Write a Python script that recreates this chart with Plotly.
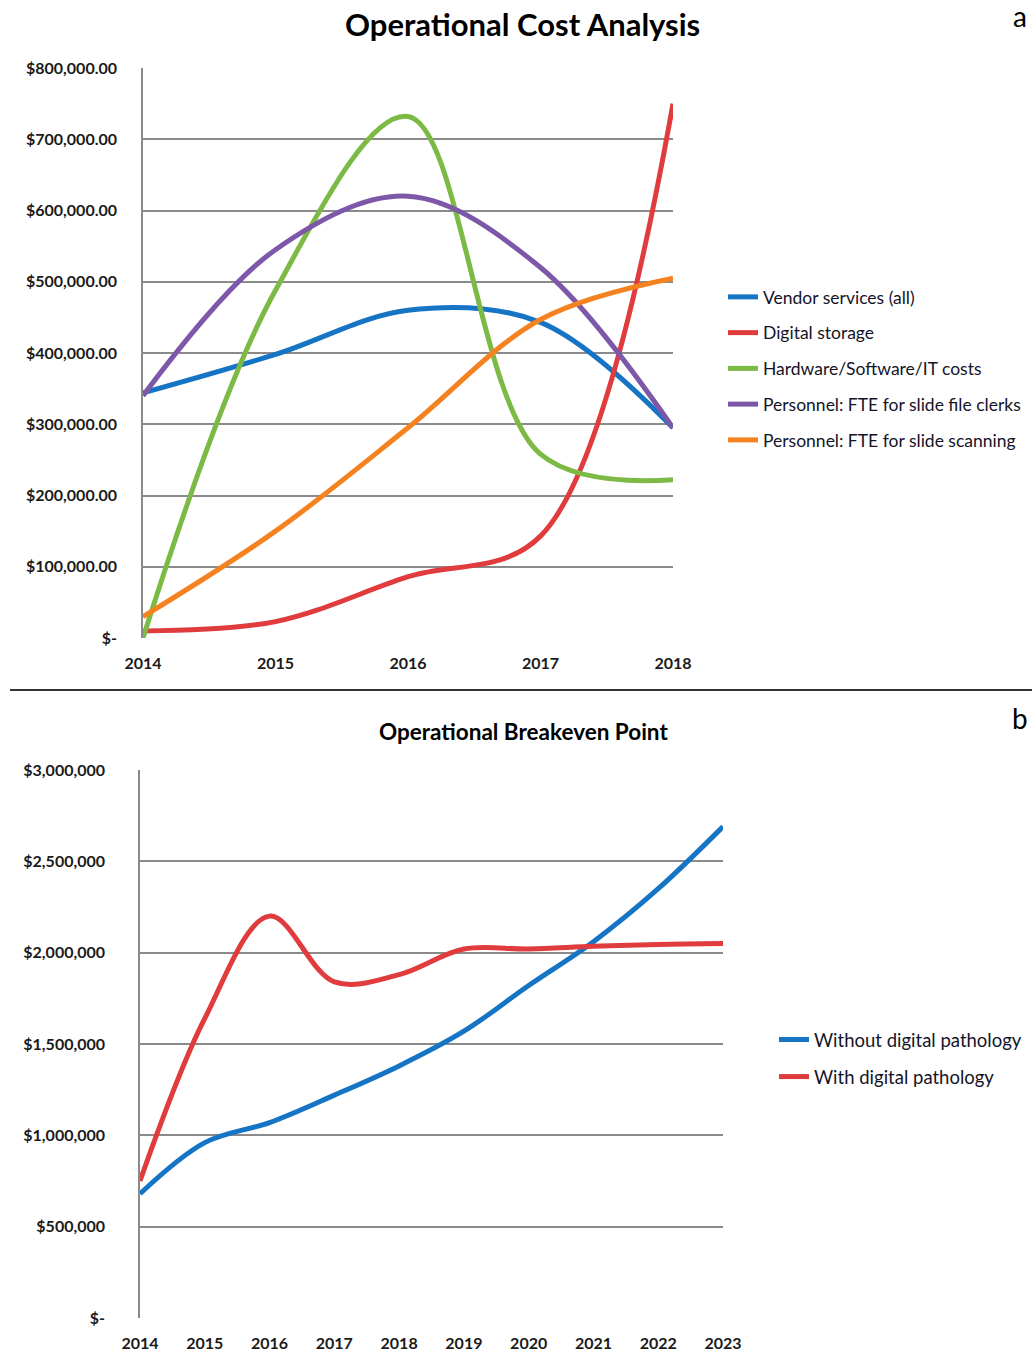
import plotly.graph_objects as go

# ---- Panel a data ----
years_a = [2014, 2015, 2016, 2017, 2018]
vendor = [344000, 398000, 460000, 443000, 295000]
storage = [10000, 23000, 86000, 143000, 750000]
hardware = [0, 488000, 732000, 258000, 222000]
clerks = [340000, 545000, 620000, 520000, 295000]
scanning = [30000, 150000, 295000, 447000, 505000]
names_a = ["Vendor services (all)", "Digital storage", "Hardware/Software/IT costs",
           "Personnel: FTE for slide file clerks", "Personnel: FTE for slide scanning"]
yticks_a = [0, 100000, 200000, 300000, 400000, 500000, 600000, 700000, 800000]
yticktext_a = ["$-", "$100,000.00", "$200,000.00", "$300,000.00", "$400,000.00",
               "$500,000.00", "$600,000.00", "$700,000.00", "$800,000.00"]

# ---- Panel b data ----
years_b = [2014, 2015, 2016, 2017, 2018, 2019, 2020, 2021, 2022, 2023]
without_dp = [680000, 960000, 1070000, 1220000, 1380000, 1570000, 1820000, 2060000, 2350000, 2690000]
with_dp = [750000, 1640000, 2200000, 1840000, 1880000, 2020000, 2020000, 2035000, 2045000, 2050000]
names_b = ["Without digital pathology", "With digital pathology"]
yticks_b = [0, 500000, 1000000, 1500000, 2000000, 2500000, 3000000]
yticktext_b = ["$-", "$500,000", "$1,000,000", "$1,500,000", "$2,000,000", "$2,500,000", "$3,000,000"]

colors_a = ["#1674c4", "#e03c3e", "#7dba45", "#7d58a8", "#f58220"]
colors_b = ["#1674c4", "#e03c3e"]

FONT = "Lato"
W, H = 1032, 1355

fig = go.Figure()

series_a = [vendor, storage, hardware, clerks, scanning]
for i, (vals, nm) in enumerate(zip(series_a, names_a)):
    fig.add_trace(go.Scatter(
        x=years_a, y=vals, name=nm, mode="lines",
        line=dict(color=colors_a[i], width=5, shape="spline", smoothing=1.0),
        xaxis="x", yaxis="y", legend="legend", legendgroup="a%d" % i,
    ))

for i, (vals, nm) in enumerate(zip([without_dp, with_dp], names_b)):
    fig.add_trace(go.Scatter(
        x=years_b, y=vals, name=nm, mode="lines",
        line=dict(color=colors_b[i], width=5, shape="spline", smoothing=1.0),
        xaxis="x2", yaxis="y2", legend="legend2", legendgroup="b%d" % i,
    ))

tickfont = dict(family=FONT, size=16, color="#1a1a1a", weight="bold")
grid = "#8a8a8a"

fig.update_layout(
    width=W, height=H,
    margin=dict(l=0, r=0, t=0, b=0, autoexpand=False),
    paper_bgcolor="white", plot_bgcolor="white",
    font=dict(family=FONT, color="#111"),
    xaxis=dict(domain=[143 / W, 673 / W], range=[2014, 2018], anchor="y",
               tickvals=years_a, ticktext=[str(y) for y in years_a],
               showgrid=False, zeroline=False, showline=False, ticks="",
               tickfont=tickfont, ticklabelstandoff=14, automargin=False),
    yaxis=dict(domain=[1 - 638 / H, 1 - 68 / H], range=[0, 800000], anchor="x",
               tickvals=yticks_a, ticktext=yticktext_a,
               showgrid=True, gridcolor=grid, gridwidth=1.5, zeroline=False,
               showline=True, linecolor=grid, linewidth=1.5, ticks="",
               tickfont=tickfont, ticklabelstandoff=21, automargin=False),
    xaxis2=dict(domain=[140 / W, 723 / W], range=[2014, 2023], anchor="y2",
                tickvals=years_b, ticktext=[str(y) for y in years_b],
                showgrid=False, zeroline=False, showline=False, ticks="",
                tickfont=tickfont, ticklabelstandoff=14, automargin=False),
    yaxis2=dict(domain=[1 - 1318 / H, 1 - 770 / H], range=[0, 3000000], anchor="x2",
                tickvals=yticks_b, ticktext=yticktext_b,
                showgrid=True, gridcolor=grid, gridwidth=1.5, zeroline=False,
                showline=True, linecolor=grid, linewidth=1.5, ticks="",
                tickfont=tickfont, ticklabelstandoff=30, automargin=False),
    legend=dict(x=723 / W, y=1 - 279 / H, xanchor="left", yanchor="top",
                font=dict(family=FONT, size=17.5, color="#141428"),
                tracegroupgap=10, itemwidth=30, bgcolor="rgba(0,0,0,0)"),
    legend2=dict(x=774 / W, y=1 - 1021 / H, xanchor="left", yanchor="top",
                 font=dict(family=FONT, size=18.5, color="#141428"),
                 tracegroupgap=10, itemwidth=30, bgcolor="rgba(0,0,0,0)"),
    showlegend=True,
)

fig.add_annotation(text="<b>Operational Cost Analysis</b>", x=522 / W, y=1 - 24 / H,
                   xref="paper", yref="paper", showarrow=False,
                   font=dict(family=FONT, size=31, color="#000"), xanchor="center", yanchor="middle")
fig.add_annotation(text="<b>Operational Breakeven Point</b>", x=523 / W, y=1 - 731 / H,
                   xref="paper", yref="paper", showarrow=False,
                   font=dict(family=FONT, size=22.5, color="#000"), xanchor="center", yanchor="middle")
fig.add_annotation(text="a", x=1020 / W, y=1 - 16 / H, xref="paper", yref="paper", showarrow=False,
                   font=dict(family=FONT, size=28, color="#000"), xanchor="center", yanchor="middle")
fig.add_annotation(text="b", x=1020 / W, y=1 - 718 / H, xref="paper", yref="paper", showarrow=False,
                   font=dict(family=FONT, size=28, color="#000"), xanchor="center", yanchor="middle")
fig.add_shape(type="line", xref="paper", yref="paper", x0=10 / W, x1=1.0,
              y0=1 - 690 / H, y1=1 - 690 / H, line=dict(color="#333", width=2))

fig.write_html("out.html")
